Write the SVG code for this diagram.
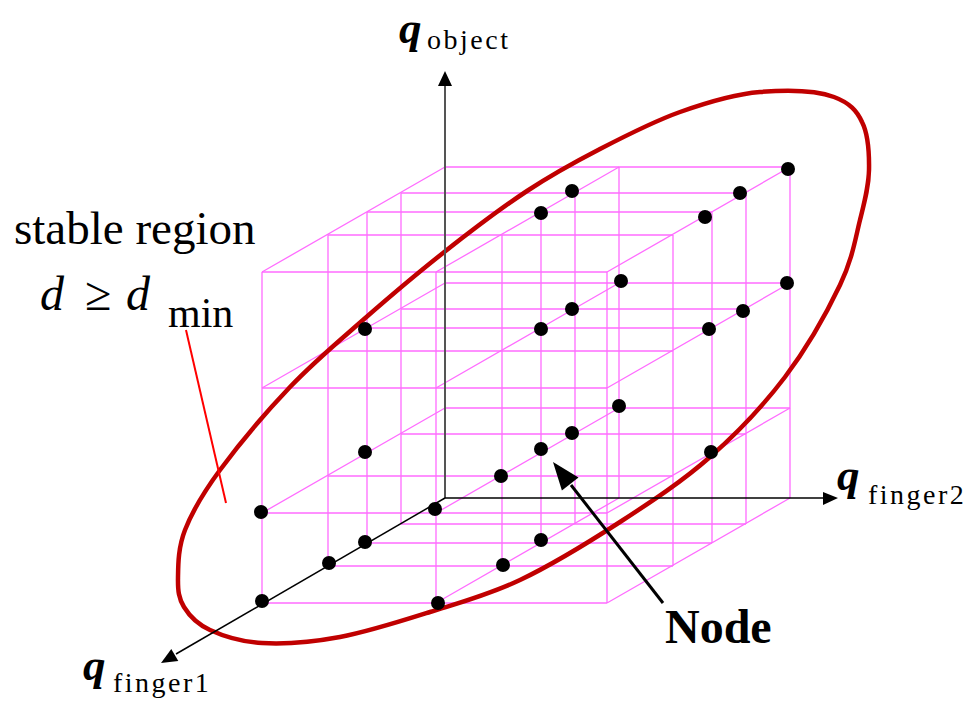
<svg xmlns="http://www.w3.org/2000/svg" width="974" height="701" viewBox="0 0 974 701">
<style>
.grid{stroke:#ff6cff;stroke-width:1.3;fill:none}
.node{fill:#000}
.t{font-family:"Liberation Serif","Times New Roman",serif;fill:#000}
.qi{font-weight:bold;font-style:italic;font-size:45px}
.sub{font-size:28px;letter-spacing:2.5px}
</style>
<rect width="974" height="701" fill="#fff"/>
<g id="grid" class="grid">
<path d="M401 524V193M367 543V212M328 566V235M262 603V272M619 498V167M575 524V193M541 543V212M502 566V235M436 603V272M790 498V167M746 524V193M712 543V212M673 566V235M607 603V272"/>
<path d="M445 408H790M445 283H790M445 167H790M401 524H746M401 434H746M401 309H746M401 193H746M367 543H712M367 328H712M367 212H712M328 566H673M328 476H673M328 351H673M328 235H673M262 603H607M262 513H607M262 388H607M262 272H607"/>
<path d="M445 408L262 513M445 283L262 388M445 167L262 272M619 498L436 603M619 408L436 513M619 283L436 388M619 167L436 272M790 498L607 603M790 408L607 513M790 283L607 388M790 167L607 272"/>
</g>
<g id="region">
<path d="M178 578C178.2 565.2 178 548 185 530C192 512 202.5 493.8 220 470C237.5 446.2 266.2 412 290 387C313.8 362 337.5 342.3 363 320C388.5 297.7 415.7 274.5 443 253C470.3 231.5 500.8 208.3 527 191C553.2 173.7 574.5 162.2 600 149C625.5 135.8 653.3 121.5 680 112C706.7 102.5 735 94 760 92C785 90 815 90 834 97C850 103 857 111 862 122C868.5 134.7 869.3 153.7 869 170C868.7 186.3 864.8 200.8 860 220C855.2 239.2 852.5 258.8 840 285C827.5 311.2 806.7 348.3 785 377C763.3 405.7 737.5 432.8 710 457C682.5 481.2 651.7 501.5 620 522C588.3 542.5 551.7 565 520 580C488.3 595 460 602.5 430 612C400 621.5 368 631.8 340 637C312 642.2 283.7 644.2 262 643C240.3 641.8 223 636 210 630C197 624 189.3 615.7 184 607C178.7 598.3 177.8 590.8 178 578Z" fill="none" stroke="#c00000" stroke-width="4.5"/>
<line x1="186" y1="330" x2="226" y2="503" stroke="#ff0000" stroke-width="2"/>
</g>
<g id="axes">
<line x1="445" y1="498" x2="445" y2="84" stroke="#555" stroke-width="2"/>
<polygon points="445,71 438,86 452,86" fill="#000"/>
<line x1="445" y1="498" x2="825" y2="498" stroke="#000" stroke-width="1.5"/>
<polygon points="838,498 823,492 823,505" fill="#000"/>
<line x1="445" y1="498" x2="176" y2="654" stroke="#000" stroke-width="1.5"/>
<polygon points="161,663 171.3,648.9 178.3,661.1" fill="#000"/>
<line x1="663" y1="603" x2="571" y2="485" stroke="#000" stroke-width="3"/>
<polygon points="553,462 561.9,490.6 578.5,477.6" fill="#000"/>
</g>
<g id="n1" class="node"><circle cx="788" cy="169" r="7"/></g>
<g id="n2" class="node"><circle cx="740" cy="193" r="7"/></g>
<g id="n3" class="node"><circle cx="705" cy="217" r="7"/></g>
<g id="n4" class="node"><circle cx="572" cy="191" r="7"/></g>
<g id="n5" class="node"><circle cx="541" cy="213" r="7"/></g>
<g id="n6" class="node"><circle cx="621" cy="281" r="7"/></g>
<g id="n7" class="node"><circle cx="787" cy="283" r="7"/></g>
<g id="n8" class="node"><circle cx="743" cy="311" r="7"/></g>
<g id="n9" class="node"><circle cx="709" cy="329" r="7"/></g>
<g id="n10" class="node"><circle cx="572" cy="309" r="7"/></g>
<g id="n11" class="node"><circle cx="541" cy="329" r="7"/></g>
<g id="n12" class="node"><circle cx="365" cy="329" r="7"/></g>
<g id="n13" class="node"><circle cx="619" cy="406" r="7"/></g>
<g id="n14" class="node"><circle cx="572" cy="433" r="7"/></g>
<g id="n15" class="node"><circle cx="541" cy="449" r="7"/></g>
<g id="n16" class="node"><circle cx="711" cy="452" r="7"/></g>
<g id="n17" class="node"><circle cx="541" cy="540" r="7"/></g>
<g id="n18" class="node"><circle cx="365" cy="452" r="7"/></g>
<g id="n19" class="node"><circle cx="501" cy="476" r="7"/></g>
<g id="n20" class="node"><circle cx="261" cy="512" r="7"/></g>
<g id="n21" class="node"><circle cx="435" cy="509" r="7"/></g>
<g id="n22" class="node"><circle cx="365" cy="542" r="7"/></g>
<g id="n23" class="node"><circle cx="329" cy="563" r="7"/></g>
<g id="n24" class="node"><circle cx="503" cy="565" r="7"/></g>
<g id="n25" class="node"><circle cx="262" cy="601" r="7"/></g>
<g id="n26" class="node"><circle cx="438" cy="603" r="7"/></g>
<g id="labels">
<text class="t" x="14" y="244" font-size="47">stable region</text>
<text class="t" x="40" y="310" font-size="48" font-style="italic">d</text>
<text class="t" x="85" y="310" font-size="48">≥</text>
<text class="t" x="126" y="310" font-size="48" font-style="italic">d</text>
<text class="t" x="168" y="327" font-size="42">min</text>
<text class="t qi" x="399" y="43">q</text>
<text class="t sub" x="427" y="49">object</text>
<text class="t qi" x="837" y="490">q</text>
<text class="t sub" x="868" y="504">finger2</text>
<text class="t qi" x="83" y="680">q</text>
<text class="t sub" x="113" y="692">finger1</text>
<text class="t" x="665" y="643" font-size="48" font-weight="bold">Node</text>
</g>
</svg>
